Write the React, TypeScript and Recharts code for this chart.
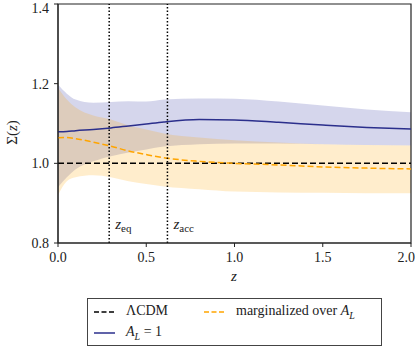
import {
  Area,
  ComposedChart,
  Line,
  ReferenceArea,
  ReferenceLine,
  XAxis,
  YAxis,
} from "recharts";

const zGrid = [0, 0.05, 0.1, 0.2, 0.3, 0.4, 0.5, 0.6, 0.8, 1.0, 1.25, 1.5, 1.75, 2.0];

// A_L = 1 (mean and band)
const alMean = [1.079, 1.080, 1.082, 1.085, 1.089, 1.094, 1.099, 1.104, 1.110, 1.109, 1.103, 1.096, 1.090, 1.086];
const alUpper = [1.197, 1.175, 1.160, 1.152, 1.154, 1.156, 1.155, 1.160, 1.163, 1.162, 1.155, 1.145, 1.135, 1.128];
const alLower = [0.940, 0.965, 0.985, 1.005, 1.018, 1.027, 1.035, 1.042, 1.048, 1.050, 1.050, 1.048, 1.046, 1.045];

// marginalized over A_L (mean and band)
const margMean = [1.064, 1.065, 1.062, 1.053, 1.043, 1.031, 1.022, 1.014, 1.005, 1.000, 0.996, 0.991, 0.988, 0.986];
const margUpper = [1.190, 1.160, 1.140, 1.120, 1.110, 1.095, 1.085, 1.075, 1.065, 1.058, 1.052, 1.048, 1.046, 1.045];
const margLower = [0.920, 0.955, 0.965, 0.970, 0.965, 0.955, 0.948, 0.942, 0.935, 0.929, 0.927, 0.926, 0.925, 0.925];

const lcdm = [1, 1, 1, 1, 1, 1, 1, 1, 1, 1, 1, 1, 1, 1];

const xTicks = [0, 0.5, 1.0, 1.5, 2.0];
const yTicks = [0.8, 1.0, 1.2, 1.4];
const xDomain = [0, 2];
const yDomain = [0.8, 1.4];

const zEq = 0.29;
const zAcc = 0.62;

const data = zGrid.map((z, i) => ({
  z,
  alMean: alMean[i],
  alBand: [alLower[i], alUpper[i]],
  margMean: margMean[i],
  margBand: [margLower[i], margUpper[i]],
  lcdm: lcdm[i],
}));

const FONT = "'Liberation Serif', 'DejaVu Serif', serif";
const NAVY = "#2b2f8c";
const ORANGE = "#ffa500";

function ZLabel({ viewBox, sub }: any) {
  const x = viewBox.x + 6;
  const y = viewBox.y + viewBox.height - 14;
  return (
    <text x={x} y={y} fontFamily={FONT} fontSize={15} fill="#222">
      <tspan fontStyle="italic">z</tspan>
      <tspan fontSize={11} dy={3}>{sub}</tspan>
    </text>
  );
}

const tickStyle = { fontFamily: FONT, fontSize: 14, fill: "#222" };

export default function App() {
  return (
    <div style={{ position: "absolute", left: 0, top: 0, width: 415, height: 348, background: "#fff" }}>
      <ComposedChart
        width={415}
        height={290}
        data={data}
        margin={{ top: 4, right: 4, left: 18, bottom: 17 }}
      >
        <XAxis
          dataKey="z"
          type="number"
          domain={xDomain}
          ticks={xTicks}
          tickFormatter={(v: number) => v.toFixed(1)}
          tick={tickStyle}
          tickSize={4}
          tickMargin={5}
          height={30}
          stroke="#222"
          allowDataOverflow
        />
        <YAxis
          type="number"
          domain={yDomain}
          ticks={yTicks}
          tickFormatter={(v: number) => v.toFixed(1)}
          tick={tickStyle}
          tickSize={4}
          tickMargin={5}
          width={40}
          stroke="#222"
          allowDataOverflow
        />
        <Area dataKey="alBand" type="monotone" stroke="none" fill="#2d33a0" fillOpacity={0.2} isAnimationActive={false} />
        <Area dataKey="margBand" type="monotone" stroke="none" fill={ORANGE} fillOpacity={0.2} isAnimationActive={false} />
        <Line dataKey="lcdm" type="linear" stroke="#000" strokeWidth={1.5} strokeDasharray="6 3" dot={false} isAnimationActive={false} />
        <Line dataKey="alMean" type="monotone" stroke={NAVY} strokeWidth={1.5} dot={false} isAnimationActive={false} />
        <Line dataKey="margMean" type="monotone" stroke={ORANGE} strokeWidth={1.5} strokeDasharray="6 3" dot={false} isAnimationActive={false} />
        <ReferenceLine x={zEq} stroke="#000" strokeWidth={1.5} strokeDasharray="1.5 2" label={<ZLabel sub="eq" />} />
        <ReferenceLine x={zAcc} stroke="#000" strokeWidth={1.5} strokeDasharray="1.5 2" label={<ZLabel sub="acc" />} />
        {/* plot frame */}
        <ReferenceArea
          x1={xDomain[0]}
          x2={xDomain[1]}
          y1={yDomain[0]}
          y2={yDomain[1]}
          fill="none"
          stroke="#222"
          strokeWidth={1.2}
          ifOverflow="visible"
        />
      </ComposedChart>
      <div style={{ position: "absolute", left: 231, top: 268, fontFamily: FONT, fontSize: 15, fontStyle: "italic", color: "#222" }}>z</div>
      <div
        style={{
          position: "absolute",
          left: 0,
          top: 124,
          transform: "rotate(-90deg)",
          fontFamily: FONT,
          fontSize: 15,
          color: "#222",
          whiteSpace: "nowrap",
        }}
      >
        Σ(<i>z</i>)
      </div>
      <div
        style={{
          position: "absolute",
          left: 87,
          top: 298,
          width: 295,
          height: 48,
          border: "1.5px solid #444",
          boxSizing: "border-box",
          fontFamily: FONT,
          fontSize: 14,
          color: "#222",
        }}
      >
        <svg width={292} height={45} style={{ position: "absolute", left: 0, top: 0 }}>
          <line x1={6} x2={27} y1={13} y2={13} stroke="#000" strokeWidth={1.5} strokeDasharray="5 2.5" />
          <line x1={116} x2={137} y1={13} y2={13} stroke={ORANGE} strokeWidth={1.5} strokeDasharray="5 2.5" />
          <line x1={6} x2={27} y1={34} y2={34} stroke={NAVY} strokeWidth={1.5} />
        </svg>
        <div style={{ position: "absolute", left: 38, top: 4, whiteSpace: "nowrap" }}>ΛCDM</div>
        <div style={{ position: "absolute", left: 148, top: 4, whiteSpace: "nowrap" }}>
          marginalized over <i>A</i><sub style={{ fontSize: 10 }}><i>L</i></sub>
        </div>
        <div style={{ position: "absolute", left: 38, top: 25, whiteSpace: "nowrap" }}>
          <i>A</i><sub style={{ fontSize: 10 }}><i>L</i></sub> = 1
        </div>
      </div>
    </div>
  );
}
